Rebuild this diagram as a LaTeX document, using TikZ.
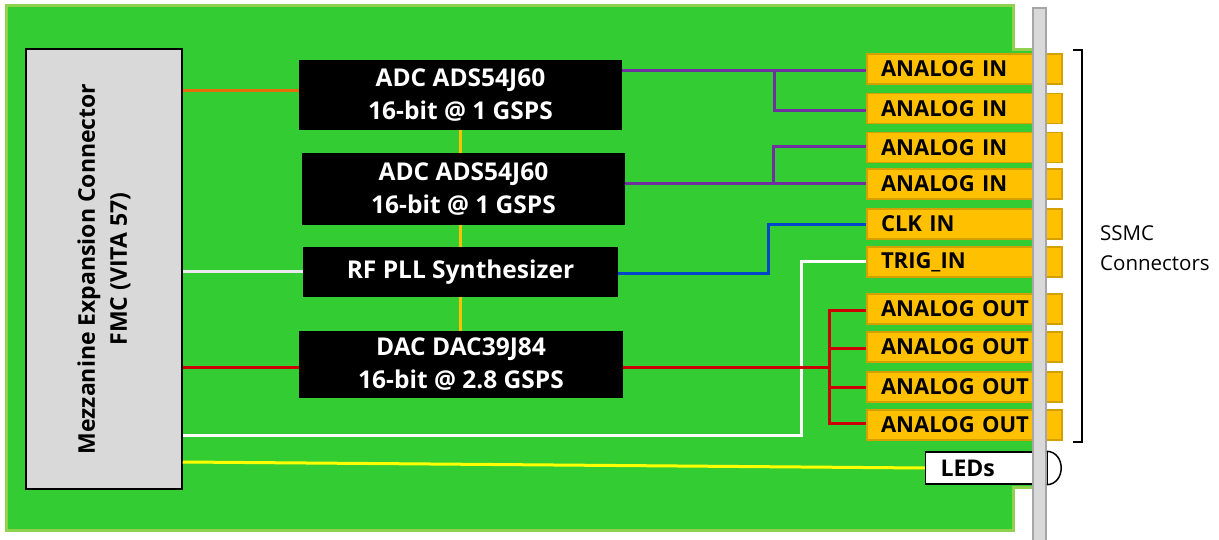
\documentclass[tikz,border=0pt]{standalone}
\usepackage{fontspec}
\setmainfont{Open Sans}
\definecolor{boardg}{HTML}{33CC33}
\definecolor{boardb}{HTML}{92D050}
\definecolor{fmcg}{HTML}{D9D9D9}
\definecolor{barb}{HTML}{A6A6A6}
\definecolor{conng}{HTML}{FFC000}
\definecolor{connb}{HTML}{D4A000}
\definecolor{orangel}{HTML}{E46C0A}
\definecolor{purplel}{HTML}{7030A0}
\definecolor{bluel}{HTML}{0046C8}
\definecolor{redl}{HTML}{CC0000}
\definecolor{pllw}{HTML}{ECE8F0}
\definecolor{goldl}{HTML}{FFC000}
\definecolor{yell}{HTML}{FFFF00}
\begin{document}
\begin{tikzpicture}[x=1pt,y=-1pt,
  blk/.style={fill=black,text=white,font=\bfseries\fontsize{24.5}{33}\selectfont,align=center,inner sep=0pt},
  conn/.style={fill=conng,draw=connb,line width=1.5pt,minimum width=195pt,minimum height=30pt,text width=167pt,align=left,inner xsep=14pt,inner ysep=0pt,font=\bfseries\fontsize{22}{24}\selectfont},
  wire/.style={line width=3pt},
]
\useasboundingbox (0,0) rectangle (1219,540);
% board
\draw[fill=boardg,draw=boardb,line width=3pt] (6,6) -- (1013,6) -- (1013,50) -- (1033,50) -- (1033,487) -- (1013,487) -- (1013,530) -- (6,530) -- cycle;
% FMC
\node[draw=black,fill=fmcg,line width=1.5pt,minimum width=156pt,minimum height=440pt,inner sep=0pt] (fmc) at (104,269) {};
\node[rotate=90,align=center,font=\bfseries\fontsize{23}{32}\selectfont] (fmctxt) at (fmc.center) {Mezzanine Expansion Connector\\FMC (VITA 57)};
% blocks
\node[blk,minimum width=323pt,minimum height=70pt] (adc1) at (460.5,95) {ADC ADS54J60\\16-bit @ 1 GSPS};
\node[blk,minimum width=323pt,minimum height=72pt] (adc2) at (463.5,189) {ADC ADS54J60\\16-bit @ 1 GSPS};
\node[blk,minimum width=315pt,minimum height=50pt] (pll) at (460.5,272) {RF PLL Synthesizer};
\node[blk,minimum width=324pt,minimum height=67pt] (dac) at (461,364.5) {DAC DAC39J84\\16-bit @ 2.8 GSPS};
% connectors
\node[conn] (ain1) at (964.5,69) {ANALOG IN};
\node[conn] (ain2) at (964.5,108.5) {ANALOG IN};
\node[conn] (ain3) at (964.5,147.5) {ANALOG IN};
\node[conn] (ain4) at (964.5,184) {ANALOG IN};
\node[conn] (clk) at (964.5,224) {CLK IN};
\node[conn] (trig) at (964.5,262) {TRIG\_IN};
\node[conn] (aout1) at (964.5,309) {ANALOG OUT};
\node[conn] (aout2) at (964.5,347) {ANALOG OUT};
\node[conn] (aout3) at (964.5,387) {ANALOG OUT};
\node[conn] (aout4) at (964.5,425) {ANALOG OUT};
\node[draw=black,fill=white,line width=1.5pt,minimum width=107pt,minimum height=32pt,inner sep=0pt,text width=92pt,inner xsep=15pt,align=left,font=\bfseries\fontsize{23}{24}\selectfont] (leds) at (986.5,468) {LEDs};
% gray bar
\node[draw=barb,fill=fmcg,line width=1.5pt,minimum width=13pt,minimum height=540pt,inner sep=0pt] (bar) at (1039.5,278) {};
\draw[line width=1.5pt] (leds.north -| bar.east) .. controls (1066,452) and (1066,484) .. (leds.south -| bar.east);
% wires
\draw[wire,goldl] (adc1.south -| 460,0) -- (adc2.north -| 460,0);
\draw[wire,goldl] (adc2.south -| 460,0) -- (pll.north -| 460,0);
\draw[wire,goldl] (pll.south -| 460,0) -- (dac.north -| 460,0);
\draw[wire,orangel] (fmc.east |- 0,91) -- (adc1.west |- 0,91);
\draw[wire,pllw] (fmc.east |- pll.west) -- (pll.west);
\draw[wire,white] (trig.west) -| (801,435) -- (fmc.east |- 0,435);
\draw[wire,redl] (fmc.east |- 0,367) -- (dac.west |- 0,367);
\draw[wire,yell] (fmc.east |- 0,462) -- (leds.west);
\draw[wire,purplel] (adc1.east |- 0,71) -- (ain1.west |- 0,71);
\draw[wire,purplel] (774,71) |- (ain2.west |- 0,111);
\draw[wire,purplel] (adc2.east |- 0,184) -- (ain4.west |- 0,184);
\draw[wire,purplel] (773,184) |- (ain3.west |- 0,147);
\draw[wire,bluel] (pll.east |- 0,274) -| (768,225) -- (clk.west |- 0,225);
\draw[wire,redl] (dac.east |- 0,367) -- (829,367);
\draw[wire,redl] (aout1.west |- 0,311) -| (829,423) -- (aout4.west |- 0,423);
\draw[wire,redl] (829,348) -- (aout2.west |- 0,348);
\draw[wire,redl] (829,387) -- (aout3.west |- 0,387);
% bracket
\draw[line width=1.2pt] (1073,50) -- (1082,50) -- (1082,442) -- (1073,442);
\node[anchor=west,align=left,font=\fontsize{20.5}{30}\selectfont,inner sep=0pt] (ssmc) at (1100,248) {SSMC\\Connectors};
\end{tikzpicture}
\end{document}
